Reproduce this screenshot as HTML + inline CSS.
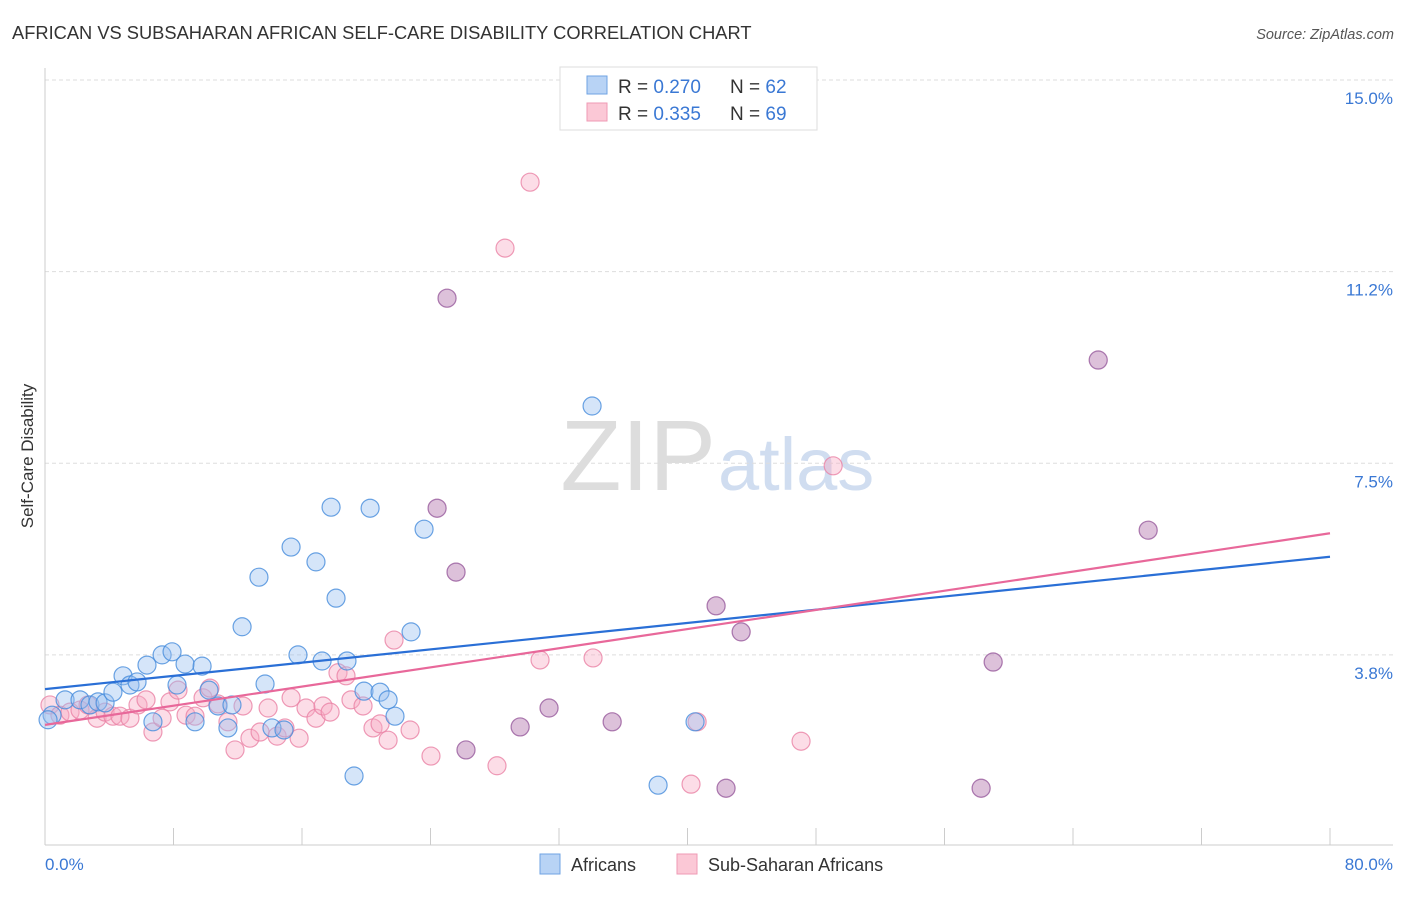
<!DOCTYPE html>
<html><head><meta charset="utf-8"><style>
body{margin:0;background:#fff;font-family:"Liberation Sans",sans-serif}
svg text{font-family:"Liberation Sans",sans-serif}
</style></head><body>
<svg width="1406" height="892" id="chart">
<text x="12" y="39" font-size="18.3" fill="#333">AFRICAN VS SUBSAHARAN AFRICAN SELF-CARE DISABILITY CORRELATION CHART</text>
<text x="1394" y="39" font-size="14.5" fill="#555" text-anchor="end" font-style="italic">Source: ZipAtlas.com</text>
<text x="716" y="490" font-size="100" fill="#ddd" text-anchor="end" font-family="Liberation Serif">ZIP</text>
<text x="718" y="490" font-size="74" fill="#d0ddf0">atlas</text>
<g id="grid"></g>
<g id="axes"></g>
<g id="pts"></g>
<g id="lines"></g>
<text transform="translate(33,456) rotate(-90)" font-size="17" fill="#333" text-anchor="middle">Self-Care Disability</text>
<text x="45" y="870" font-size="17" fill="#3a78d4">0.0%</text>
<text x="1393" y="870" font-size="17" fill="#3a78d4" text-anchor="end">80.0%</text>
<g>
<rect x="560" y="67" width="257" height="63" fill="#fff" stroke="#ddd"/>
<rect x="587" y="76" width="20" height="18" fill="#b8d3f5" stroke="#6fa3e3"/>
<rect x="587" y="103" width="20" height="18" fill="#fbc8d6" stroke="#ef9ab4"/>
<text x="618" y="93" font-size="19" fill="#333">R = <tspan fill="#3a78d4">0.270</tspan><tspan x="730">N = </tspan><tspan fill="#3a78d4">62</tspan></text>
<text x="618" y="120" font-size="19" fill="#333">R = <tspan fill="#3a78d4">0.335</tspan><tspan x="730">N = </tspan><tspan fill="#3a78d4">69</tspan></text>
</g>
<g>
<rect x="540" y="854" width="20" height="20" fill="#b8d3f5" stroke="#6fa3e3"/>
<text x="571" y="871" font-size="18" fill="#333">Africans</text>
<rect x="677" y="854" width="20" height="20" fill="#fbc8d6" stroke="#ef9ab4"/>
<text x="708" y="871" font-size="18" fill="#333">Sub-Saharan Africans</text>
</g>
</svg>
<script>
const yTicks=[15.0,11.25,7.5,3.75];
const yTickLabels=["15.0%","11.2%","7.5%","3.8%"];
const xTicks=[0,8,16,24,32,40,48,56,64,72,80];
const shared=[[25.03,10.73],[24.41,6.62],[25.59,5.37],[26.21,1.89],[29.58,2.34],[31.38,2.71],[35.31,2.44],[41.78,4.71],[42.40,1.14],[43.34,4.20],[59.03,3.61],[58.28,1.14],[65.57,9.52],[68.68,6.19]];
const blueX=[0.44,1.25,2.18,2.80,3.30,3.74,4.23,4.86,5.29,5.73,6.35,6.72,7.29,7.91,8.22,8.72,9.34,9.78,10.21,10.77,11.39,11.64,12.27,13.32,13.70,14.13,14.88,15.32,15.75,16.87,17.25,17.81,18.12,18.80,19.24,19.86,20.24,20.86,21.36,21.79,22.79,23.60,34.06,38.17,40.47,0.19];
const blueY=[2.57,2.87,2.87,2.77,2.83,2.81,3.02,3.34,3.16,3.22,3.55,2.44,3.75,3.81,3.16,3.57,2.44,3.53,3.06,2.75,2.32,2.77,4.30,5.27,3.18,2.32,2.28,5.86,3.75,5.57,3.63,6.64,4.86,3.63,1.38,3.04,6.62,3.02,2.87,2.55,4.20,6.21,8.62,1.20,2.44,2.48];
const pinkX=[0.31,0.93,1.56,2.18,2.68,3.24,3.74,4.23,4.67,5.29,5.79,6.29,6.72,7.29,7.78,8.28,8.78,9.34,9.84,10.27,10.77,11.39,11.83,12.33,12.76,13.39,13.89,14.45,14.94,15.32,15.82,16.25,16.87,17.31,17.75,18.24,18.74,19.05,19.80,20.42,20.86,21.36,21.73,22.73,24.03,28.14,28.64,30.20,30.82,34.12,40.22,40.60,47.07,49.07];
const pinkY=[2.77,2.57,2.63,2.67,2.77,2.51,2.63,2.55,2.55,2.51,2.77,2.87,2.24,2.51,2.83,3.06,2.57,2.55,2.91,3.10,2.79,2.44,1.89,2.75,2.12,2.24,2.71,2.16,2.32,2.91,2.12,2.71,2.51,2.75,2.63,3.40,3.34,2.87,2.75,2.32,2.40,2.08,4.04,2.28,1.77,1.58,11.71,13.00,3.65,3.69,1.22,2.44,2.06,7.45];
const blueTrend=[3.08,5.67];
const pinkTrend=[2.38,6.13];
const NS="http://www.w3.org/2000/svg";
const X=p=>45+p*(1330-45)/80;
const Y=v=>80+(15-v)*51.1;
function mk(tag,attrs,parent){const e=document.createElementNS(NS,tag);for(const k in attrs)e.setAttribute(k,attrs[k]);document.getElementById(parent).appendChild(e);return e;}
yTicks.forEach((t,i)=>{
 const l=mk('line',{x1:45,x2:1393,y1:Y(t),y2:Y(t),stroke:'#ddd','stroke-dasharray':'4,3'},'grid');
 
 
 const tx=mk('text',{x:1393,y:Y(t)+24,'font-size':17,fill:'#3a78d4','text-anchor':'end'},'grid');
 tx.textContent=yTickLabels[i];
 
 
});
let a=mk('line',{x1:45,x2:45,y1:68,y2:845,stroke:'#ccc'},'axes');


a=mk('line',{x1:45,x2:1393,y1:845,y2:845,stroke:'#ccc'},'axes');


xTicks.forEach(t=>{
 const l=mk('line',{x1:X(t),x2:X(t),y1:828,y2:845,stroke:'#ccc'},'axes');
 
 
});
function dot(x,y,c,name){
 const e=mk('circle',{cx:X(x),cy:Y(y),r:9,fill:c[0],stroke:c[1],'stroke-width':1.2},'pts');
 
 
}
const pc=['rgba(248,170,195,0.4)','rgba(234,130,165,0.8)'];
const bc=['rgba(150,190,240,0.4)','rgba(70,140,220,0.8)'];
pinkX.forEach((x,i)=>dot(x,pinkY[i],pc,'subsaharan-point'));
shared.forEach(s=>dot(s[0],s[1],pc,'subsaharan-point'));
blueX.forEach((x,i)=>dot(x,blueY[i],bc,'africans-point'));
shared.forEach(s=>dot(s[0],s[1],['rgba(150,130,190,0.3)','rgba(130,100,170,0.6)'],'africans-point'));
let bl=mk('line',{x1:X(0),y1:Y(blueTrend[0]),x2:X(80),y2:Y(blueTrend[1]),stroke:'#2a6fd6','stroke-width':2.2},'lines');


let pl=mk('line',{x1:X(0),y1:Y(pinkTrend[0]),x2:X(80),y2:Y(pinkTrend[1]),stroke:'#e8689a','stroke-width':2.2},'lines');


</script>
</body></html>
